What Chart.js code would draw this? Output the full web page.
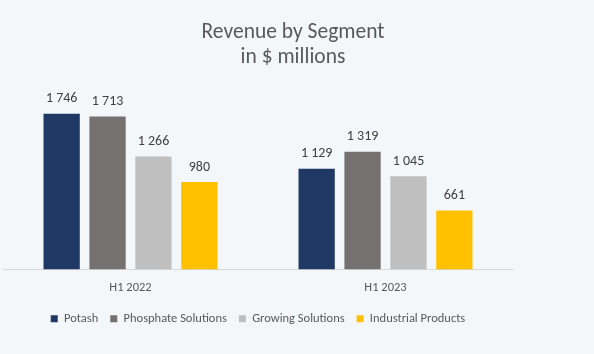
<!DOCTYPE html>
<html>
<head>
<meta charset="utf-8">
<script src="https://cdn.jsdelivr.net/npm/chart.js@4/dist/chart.umd.min.js"></script>
<style>
  html, body { margin: 0; padding: 0; background: #f4f7fa; }
  #wrap { width: 594px; height: 354px; }
</style>
</head>
<body>
<div id="wrap"><canvas id="revenueChart"></canvas></div>
<script>
// Revenue by segment, $ millions
const periods = ['H1 2022', 'H1 2023'];
const potash = [1746, 1129];
const phosphate = [1713, 1319];
const growing = [1266, 1045];
const industrial = [980, 661];

const titleLines = ['Revenue by Segment', 'in $ millions'];
const FONT = 'Carlito, Lato, "Open Sans", sans-serif';

const fmt = v => String(v).replace(/\B(?=(\d{3})+(?!\d))/g, ' ');

// background + title drawn by hand so the title stays centred on the page
const decorPlugin = {
  id: 'decor',
  beforeDraw(chart) {
    const ctx = chart.ctx;
    ctx.save();
    ctx.fillStyle = '#f4f7fa';
    ctx.fillRect(0, 0, chart.width, chart.height);
    ctx.fillStyle = '#595959';
    ctx.font = '21.5px ' + FONT;
    ctx.textAlign = 'center';
    ctx.textBaseline = 'middle';
    ctx.fillText(titleLines[0], 293, 33);
    ctx.fillText(titleLines[1], 293, 58);
    ctx.restore();
  }
};

// value labels over the bars
const valueLabels = {
  id: 'valueLabels',
  afterDatasetsDraw(chart) {
    const ctx = chart.ctx;
    ctx.save();
    ctx.fillStyle = '#404040';
    ctx.font = '14px ' + FONT;
    ctx.textAlign = 'center';
    ctx.textBaseline = 'bottom';
    chart.data.datasets.forEach((ds, i) => {
      chart.getDatasetMeta(i).data.forEach((bar, j) => {
        ctx.fillText(fmt(ds.data[j]), bar.x, bar.y - 8);
      });
    });
    ctx.restore();
  }
};

new Chart(document.getElementById('revenueChart'), {
  type: 'bar',
  data: {
    labels: periods,
    datasets: [
      { label: 'Potash', data: potash, backgroundColor: '#1f3864' },
      { label: 'Phosphate Solutions', data: phosphate, backgroundColor: '#767171' },
      { label: 'Growing Solutions', data: growing, backgroundColor: '#bfbfbf' },
      { label: 'Industrial Products', data: industrial, backgroundColor: '#ffc000' }
    ]
  },
  options: {
    responsive: true,
    maintainAspectRatio: false,
    animation: false,
    categoryPercentage: 0.72,
    barPercentage: 0.79,
    layout: { padding: { top: 91, left: 3, right: 81, bottom: 19 } },
    plugins: {
      title: { display: false },
      tooltip: { enabled: false },
      legend: {
        position: 'bottom',
        labels: {
          color: '#595959',
          font: { family: FONT, size: 12.5 },
          boxWidth: 7,
          boxHeight: 7,
          padding: 12
        }
      }
    },
    scales: {
      x: {
        grid: { display: false, drawTicks: false },
        border: { color: '#d9d9d9' },
        ticks: { color: '#595959', font: { family: FONT, size: 12.5 }, padding: 11 },
        afterFit: scale => { scale.height = 31; }
      },
      y: { display: false, min: 0, max: 2000 }
    }
  },
  plugins: [decorPlugin, valueLabels]
});
</script>
</body>
</html>
